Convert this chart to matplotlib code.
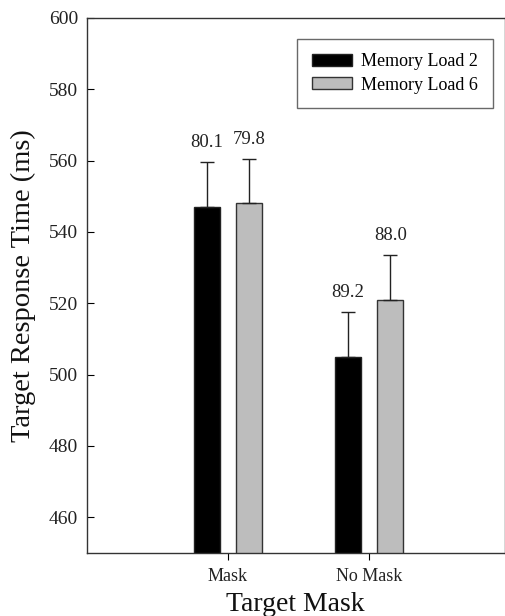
import numpy as np
import matplotlib
matplotlib.use("Agg")
import matplotlib.pyplot as plt

# data
conditions = ["Mask", "No Mask"]
series = ["Memory Load 2", "Memory Load 6"]
load2_rt = [547.0, 505.0]
load6_rt = [548.0, 521.0]
load2_err = [12.5, 12.5]
load6_err = [12.4, 12.5]
load2_acc = ["80.1", "89.2"]
load6_acc = ["79.8", "88.0"]

plt.rcParams['font.family'] = ['Liberation Serif', 'DejaVu Serif']

fig = plt.figure(figsize=(5.05, 6.16), dpi=100)
ax = fig.add_axes([87/505, 1 - 553/616, (504.5 - 87)/505, (553 - 18)/616])

x = np.arange(len(conditions))
width = 0.185
offset = 0.15

ax.bar(x - offset, load2_rt, width, color='black', edgecolor='#222222',
       linewidth=1.0, label=series[0], zorder=2)
ax.bar(x + offset, load6_rt, width, color='#bdbdbd', edgecolor='#333333',
       linewidth=1.0, label=series[1], zorder=2)

# upward-only error bars
ax.errorbar(x - offset, load2_rt, yerr=[np.zeros(2), load2_err], fmt='none',
            ecolor='#222222', elinewidth=1.0, capsize=5, capthick=1.0, zorder=3)
ax.errorbar(x + offset, load6_rt, yerr=[np.zeros(2), load6_err], fmt='none',
            ecolor='#222222', elinewidth=1.0, capsize=5, capthick=1.0, zorder=3)

# accuracy labels above error bars
for xi, v, e, s in zip(x - offset, load2_rt, load2_err, load2_acc):
    ax.annotate(s, (xi, v + e), xytext=(0, 14.5), textcoords='offset points',
                ha='center', va='center', fontsize=13.5, color='#222222')
for xi, v, e, s in zip(x + offset, load6_rt, load6_err, load6_acc):
    ax.annotate(s, (xi, v + e), xytext=(0, 14.5), textcoords='offset points',
                ha='center', va='center', fontsize=13.5, color='#222222')

ax.set_ylim(450, 600)
ax.set_xlim(-1.0, 1.96)
ax.set_yticks(np.arange(460, 601, 20))
ax.set_xticks(x)
ax.set_xticklabels(conditions, fontsize=13, color='#222222')
ax.tick_params(axis='y', direction='in', length=5, labelsize=14,
               labelcolor='#222222', pad=6.5)
ax.tick_params(axis='x', direction='out', length=5, pad=6)

for sp in ax.spines.values():
    sp.set_linewidth(1.0)
    sp.set_color('#333333')

ax.set_ylabel("Target Response Time (ms)", fontsize=20.5, color='#111111', labelpad=9)
ax.set_xlabel("Target Mask", fontsize=20, color='#111111', labelpad=5)

leg = ax.legend(loc='upper right', bbox_to_anchor=(0.972, 0.961), fontsize=13,
                frameon=True, fancybox=False, handlelength=2.2, handleheight=0.66,
                borderpad=0.8, labelspacing=0.35, handletextpad=0.55,
                borderaxespad=0)
leg.get_frame().set_edgecolor('#444444')
leg.get_frame().set_linewidth(1.0)

fig.savefig("out.png", dpi=100)
